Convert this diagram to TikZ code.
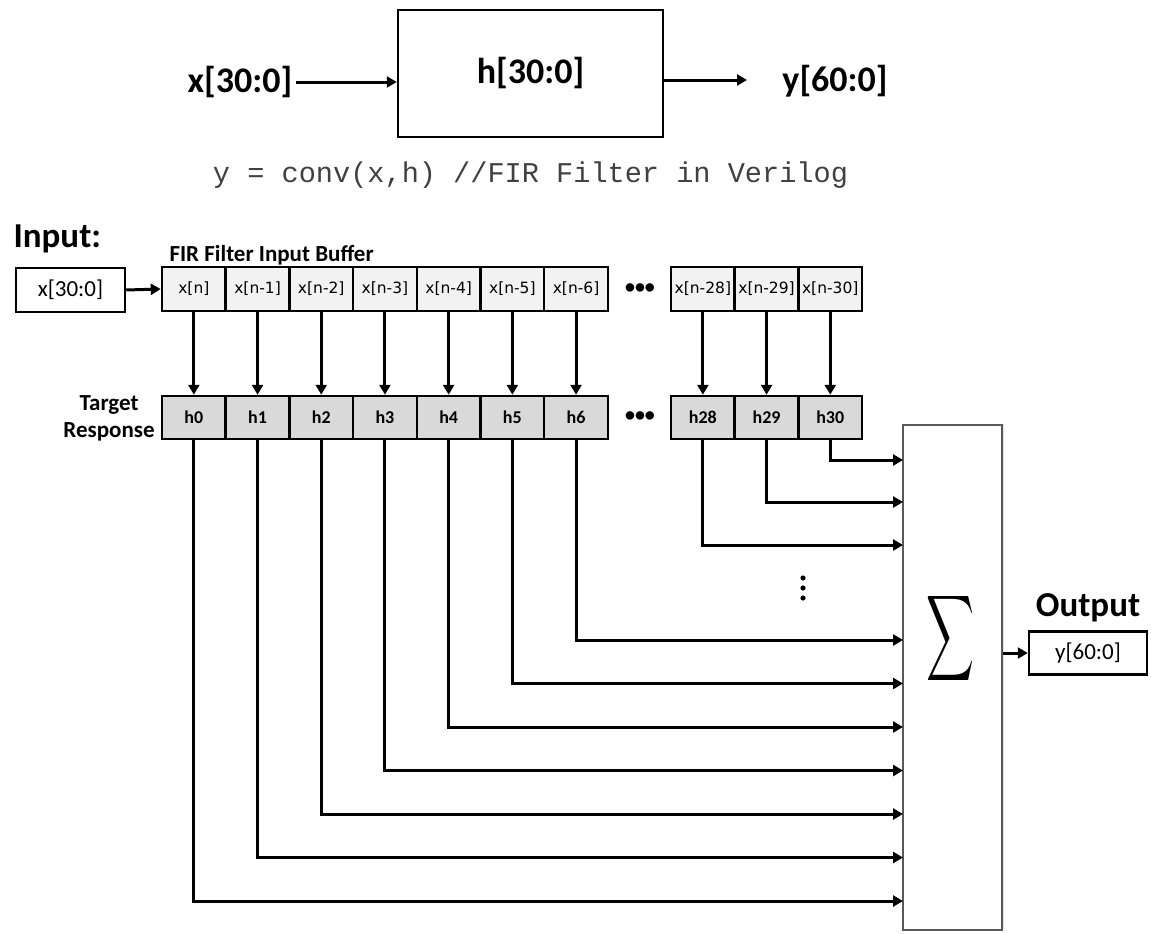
\documentclass[tikz,border=0pt]{standalone}
\usepackage{fontspec}
\usepackage{graphicx}
\setmainfont{Carlito}
\newfontfamily\dejavu{DejaVu Sans}
\newfontfamily\codefont{Liberation Mono}
\usetikzlibrary{arrows.meta,shadows}
\begin{document}
\begin{tikzpicture}[x=1pt,y=-1pt,
  arr/.style={line width=3pt,-{Triangle[length=10pt,width=11pt]}},
  bigtext/.style={font=\fontsize{36}{40}\selectfont\bfseries},
  topbox/.style={draw,line width=2.5pt,minimum width=265pt,minimum height=127pt,inner sep=0pt},
  xcell/.style={draw,line width=2.5pt,fill=gray!10,minimum width=63.7pt,minimum height=44pt,inner sep=0pt,font=\dejavu\fontsize{15.5}{18}\selectfont},
  hcell/.style={draw,line width=2.5pt,fill=gray!30,minimum width=63.7pt,minimum height=43pt,inner sep=0pt,font=\fontsize{18}{20}\selectfont\bfseries},
  iobox/.style={draw,line width=2.5pt,fill=white,inner sep=0pt,font=\fontsize{23}{26}\selectfont},
  sigbox/.style={draw=black!65,line width=1.5pt,fill=white,minimum width=99pt,minimum height=505pt,inner sep=0pt,
    drop shadow={opacity=0.25,shadow xshift=1.5pt,shadow yshift=1.5pt}},
  label/.style={font=\fontsize{23}{27}\selectfont\bfseries},
  dots/.style={font=\fontsize{20}{10}\selectfont\bfseries,inner sep=0pt}]
\useasboundingbox (0,0) rectangle (1151,934);

% ---------- top block ----------
\node[bigtext] (xtop) at (240,82) {x[30:0]};
\node[topbox,bigtext] (hbox) at (530.5,73.5) {h[30:0]};
\node[bigtext] (ytop) at (835,81) {y[60:0]};
\draw[arr] (xtop.east) -- (xtop.east -| hbox.west);
\coordinate (yarrowend) at (747,80);
\draw[arr] (yarrowend -| hbox.east) -- (yarrowend);
\node[anchor=base,text=black!75,font=\codefont\fontsize{28.6}{32}\selectfont] (code) at (530.5,182) {y = conv(x,h) //FIR Filter in Verilog};

% ---------- labels ----------
\node[anchor=base west,font=\fontsize{35}{40}\selectfont\bfseries] (inlbl) at (10,247) {Input:};
\node[anchor=base west,label] (fir) at (166,261) {FIR Filter Input Buffer};
\node[label,align=center,font=\fontsize{23}{27}\selectfont\bfseries] (tr) at (109,418) {Target\\Response};

% ---------- input box ----------
\node[iobox,minimum width=109pt,minimum height=44pt] (inbox) at (70.5,290) {x[30:0]};

% ---------- buffer and coefficient cells ----------
\foreach \i in {0,...,6} {
  \pgfmathsetmacro\cx{193.85+63.7*\i}
  \node[xcell] (x\i) at (\cx,289) {x[n\ifnum\i=0\else-\i\fi]};
  \node[hcell] (h\i) at (\cx,417.5) {h\i};
}
\foreach \i [count=\k from 0] in {28,29,30} {
  \pgfmathsetmacro\cx{702.85+63.7*\k}
  \node[xcell] (x\i) at (\cx,289) {x[n-\i]};
  \node[hcell] (h\i) at (\cx,417.5) {h\i};
}
\node[dots] (xdots) at (640,289) {\textbullet\textbullet\textbullet};
\node[dots] (hdots) at (640,417) {\textbullet\textbullet\textbullet};

\draw[arr] (inbox.east) -- (x0.west);
\foreach \i in {0,...,6,28,29,30} {
  \draw[arr] (x\i.south) -- (h\i.north);
}

% ---------- summation block ----------
\node[sigbox] (sig) at (952.5,677.5) {};
\node[inner sep=0pt] (sum) at (950,638) {\resizebox{48pt}{63pt}{$\displaystyle\sum$}};
\foreach \yy in {578,588,598} {
  \fill (803,\yy) circle (2.6pt);
}

\foreach \i/\yy in {0/901,1/857.5,2/814,3/770.5,4/727,5/683.5,6/640,28/545,29/502,30/460} {
  \coordinate (in\i) at (903,\yy);
  \draw[arr] (h\i.south) |- (in\i);
}

% ---------- output ----------
\node[anchor=center,font=\fontsize{35}{40}\selectfont\bfseries] (outlbl) at (1088,608) {Output};
\node[iobox,minimum width=118pt,minimum height=43pt] (obox) at (1088,653) {y[60:0]};
\draw[arr] (sig.east |- obox.west) -- (obox.west);
\end{tikzpicture}
\end{document}
